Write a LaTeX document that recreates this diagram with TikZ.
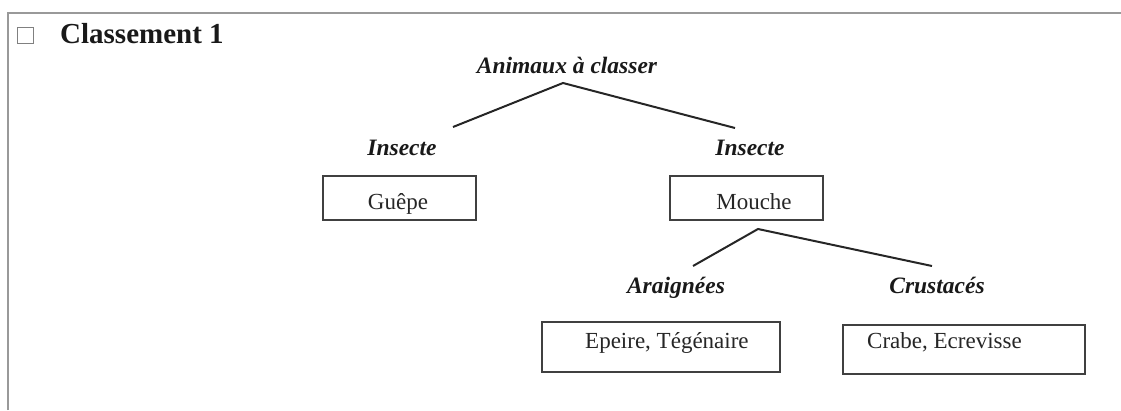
\documentclass[tikz,border=0pt]{standalone}
\usepackage{fontspec}
\setmainfont{Liberation Serif}
\begin{document}
\begin{tikzpicture}[x=1pt,y=-1pt,
  frameline/.style={draw=black!40, line width=2pt},
  lbl/.style={font=\fontsize{23.5}{28}\selectfont\bfseries\itshape, inner sep=0pt, anchor=base, text=black!90},
  txt/.style={font=\fontsize{23}{28}\selectfont, inner sep=0pt, text=black!85},
  boxnode/.style={draw=black!75, line width=1.8pt, inner sep=0pt},
  link/.style={draw=black!85, line width=2pt}]
\useasboundingbox (0,0) rectangle (1121,410);
% frame
\draw[frameline] (8,410) -- (8,13) -- (1121,13);
% header
\node[draw=black!50, line width=0.9pt, minimum size=16pt, inner sep=0pt] (chk) at (25,35) {};
\node[anchor=base west, inner sep=0pt, font=\fontsize{29}{34}\selectfont\bfseries, text=black!90] (title) at (60,43) {Classement 1};
% labels
\node[lbl] (root) at (567,73) {Animaux à classer};
\node[lbl] (ins1) at (402,155) {Insecte};
\node[lbl] (ins2) at (750,155) {Insecte};
\node[lbl] (araig) at (676,293) {Araignées};
\node[lbl] (crust) at (937,293) {Crustacés};
% boxes
\node[boxnode, minimum width=153pt, minimum height=44pt] (guepe) at (399.5,198) {};
\node[boxnode, minimum width=153pt, minimum height=44pt] (mouche) at (746.5,198) {};
\node[boxnode, minimum width=238pt, minimum height=50pt] (epeire) at (661,347) {};
\node[boxnode, minimum width=242pt, minimum height=49pt] (crabe) at (964,349.5) {};
% box texts
\node[txt, anchor=base] (guepetxt) at (398,209) {Guêpe};
\node[txt, anchor=base] (mouchetxt) at (754,209) {Mouche};
\node[txt, anchor=base west] (epeiretxt) at (585,348) {Epeire, Tégénaire};
\node[txt, anchor=base west] (crabetxt) at (867,348) {Crabe, Ecrevisse};
% connector ends
\coordinate (rootb) at (563,83);
\coordinate (ins1t) at (453,127);
\coordinate (ins2t) at (735,128);
\coordinate (moucheb) at (758,229);
\coordinate (araigt) at (693,266);
\coordinate (crustt) at (932,266);
\draw[link] (ins1t) -- (rootb) -- (ins2t);
\draw[link] (araigt) -- (moucheb) -- (crustt);
\end{tikzpicture}
\end{document}
